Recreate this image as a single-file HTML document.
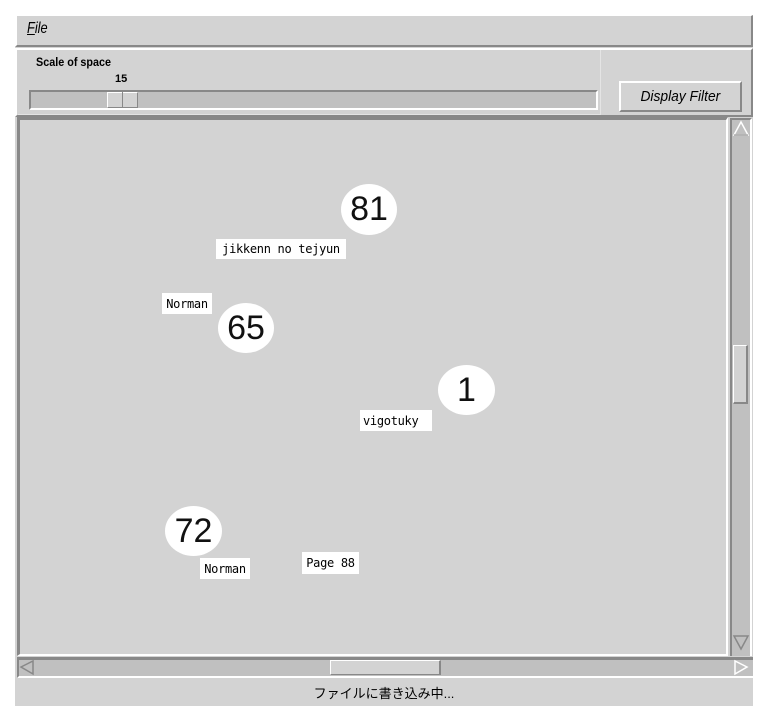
<!DOCTYPE html>
<html><head><meta charset="utf-8"><style>
*{margin:0;padding:0;box-sizing:border-box}
body{width:766px;height:720px;background:#fff;position:relative;overflow:hidden;font-family:"Liberation Sans","Noto Sans CJK JP",sans-serif}
.a{position:absolute}
.lbl{position:absolute;background:#fff;font-family:"DejaVu Sans Mono","Liberation Mono",monospace;font-size:12px;color:#000;display:flex;align-items:center;justify-content:center;letter-spacing:-0.3px}
.c{position:absolute;background:#fff;border-radius:50%;font-size:34px;color:#111;display:flex;align-items:center;justify-content:center;font-family:"Liberation Sans",sans-serif}
</style></head><body>
<div class="a" style="left:15px;top:15px;width:738px;height:691px;background:#d3d3d3"></div>
<div class="a" style="left:15px;top:15px;width:738px;height:32px;border-left:2px solid #fff;border-top:1px solid #fff;border-right:2px solid #888;border-bottom:2px solid #888"></div>
<div class="a" style="left:27px;top:20px;font-style:italic;font-size:16px;transform:scaleX(0.8);transform-origin:left"><u>F</u>ile</div>
<div class="a" style="left:15px;top:48px;width:738px;height:69px;border-left:2px solid #fff;border-top:2px solid #fff;border-right:2px solid #888;border-bottom:2px solid #888"></div>
<div class="a" style="left:18px;top:50px;width:583px;height:65px;border-right:1px solid #e4e4e4;border-bottom:1px solid #e4e4e4"></div>
<div class="a" style="left:36px;top:55px;font-size:12px;font-weight:bold;transform:scaleX(0.9);transform-origin:left">Scale of space</div>
<div class="a" style="left:115px;top:73px;font-size:11px;font-weight:bold">15</div>
<div class="a" style="left:29px;top:90px;width:569px;height:20px;background:#c0c0c0;border-top:2px solid #888;border-left:2px solid #888;border-bottom:2px solid #fff;border-right:2px solid #fff"></div>
<div class="a" style="left:107px;top:92px;width:31px;height:16px;background:#d3d3d3;border-left:1px solid #fff;border-top:1px solid #fff;border-right:1px solid #888;border-bottom:1px solid #888"></div>
<div class="a" style="left:122px;top:92px;width:1px;height:16px;background:#888"></div>
<div class="a" style="left:619px;top:81px;width:123px;height:31px;border-left:2px solid #fff;border-top:2px solid #fff;border-right:2px solid #888;border-bottom:2px solid #888;display:flex;align-items:center;justify-content:center;font-style:italic;font-size:15px"><span style="transform:scaleX(0.92);display:inline-block">Display Filter</span></div>
<div class="a" style="left:17px;top:117px;width:711px;height:539px;border-top:3px solid #888;border-left:3px solid #888;border-right:2px solid #fff;border-bottom:2px solid #fff;background:#d3d3d3"></div>
<div class="a" style="left:730px;top:118px;width:22px;height:538px;background:#c0c0c0;border-left:2px solid #888;border-top:2px solid #888;border-right:2px solid #fff"></div>
<svg class="a" style="left:732px;top:120px" width="18" height="18"><polygon points="9,2 16,15 2,15" fill="none" stroke="#fff" stroke-width="1.5"/><line x1="2" y1="15" x2="16" y2="15" stroke="#888"/></svg>
<div class="a" style="left:733px;top:345px;width:15px;height:59px;background:#d3d3d3;border-left:1px solid #fff;border-top:1px solid #fff;border-right:2px solid #888;border-bottom:2px solid #888"></div>
<svg class="a" style="left:732px;top:634px" width="18" height="18"><polygon points="2,2 16,2 9,15" fill="none" stroke="#888" stroke-width="1.5"/></svg>
<div class="a" style="left:17px;top:657px;width:736px;height:21px;background:#c0c0c0;border-top:3px solid #888;border-left:2px solid #888;border-bottom:2px solid #fff"></div>
<svg class="a" style="left:19px;top:659px" width="16" height="18"><polygon points="2,8 14,2 14,15" fill="none" stroke="#888" stroke-width="1.5"/></svg>
<svg class="a" style="left:733px;top:659px" width="16" height="18"><polygon points="14,8 2,2 2,15" fill="none" stroke="#fff" stroke-width="1.5"/></svg>
<div class="a" style="left:330px;top:660px;width:111px;height:15px;background:#d3d3d3;border-left:1px solid #fff;border-top:1px solid #fff;border-right:2px solid #888;border-bottom:1px solid #888"></div>
<div class="a" style="left:15px;top:680px;width:738px;height:25px;display:flex;align-items:center;justify-content:center;font-size:13px;color:#000">ファイルに書き込み中...</div>
<div class="c" style="left:341px;top:184px;width:56px;height:51px">81</div>
<div class="c" style="left:218px;top:303px;width:56px;height:50px">65</div>
<div class="c" style="left:438px;top:365px;width:57px;height:50px">1</div>
<div class="c" style="left:165px;top:506px;width:57px;height:50px">72</div>
<div class="lbl" style="left:216px;top:239px;width:130px;height:20px">jikkenn no tejyun</div>
<div class="lbl" style="left:162px;top:293px;width:50px;height:21px">Norman</div>
<div class="lbl" style="left:360px;top:410px;width:72px;height:21px;justify-content:flex-start;padding-left:3px">vigotuky</div>
<div class="lbl" style="left:200px;top:558px;width:50px;height:21px">Norman</div>
<div class="lbl" style="left:302px;top:552px;width:57px;height:22px">Page 88</div>
</body></html>
